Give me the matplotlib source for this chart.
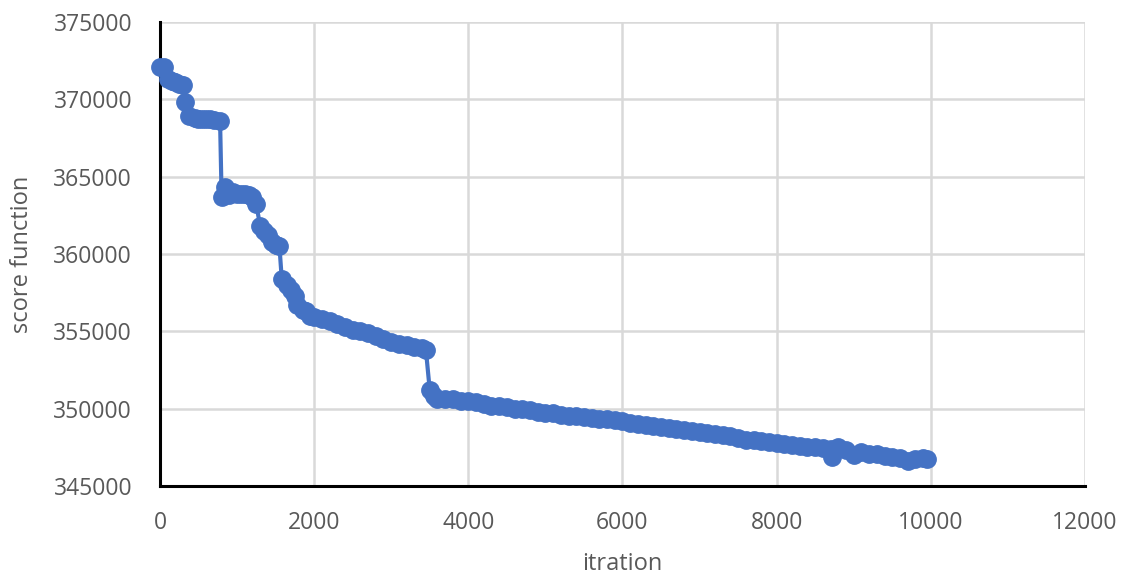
import matplotlib
matplotlib.use("Agg")
import matplotlib.pyplot as plt

# score function per iteration
iterations = [
    0, 50, 100, 150, 200, 250, 300, 330, 380, 450, 500, 550, 600, 650, 700, 780,
    800, 850, 900, 950, 1000, 1050, 1100, 1150, 1200, 1250, 1300, 1350, 1400, 1450, 1500, 1550,
    1580, 1650, 1700, 1750, 1780, 1850, 1900, 1950, 2000, 2100, 2200, 2300, 2400, 2500,
    2600, 2700, 2800, 2900, 3000, 3100, 3200, 3300, 3400, 3450,
    3500, 3550, 3600, 3700, 3800, 3900, 4000, 4100, 4200, 4300, 4400, 4500, 4600,
    4700, 4800, 4900, 5000, 5100, 5200, 5300, 5400, 5500, 5600, 5700, 5800, 5900, 6000,
    6100, 6200, 6300, 6400, 6500, 6600, 6700, 6800, 6900, 7000, 7100, 7200, 7300, 7400,
    7500, 7600, 7700, 7800, 7900, 8000, 8100, 8200, 8300, 8400, 8500, 8600, 8700, 8720,
    8800, 8900, 9000, 9100, 9200, 9300, 9400, 9500, 9600, 9700, 9800, 9900, 9950,
]
scores = [
    372100, 372100, 371300, 371200, 371100, 371000, 370900, 369800, 368900, 368800,
    368750, 368700, 368700, 368700, 368650, 368600,
    363700, 364300, 363800, 364000, 363900, 363900, 363900, 363800, 363700, 363200,
    361800, 361500, 361200, 360800, 360600, 360500,
    358400, 358000, 357700, 357300, 356700, 356400, 356300, 356000, 355900, 355800,
    355700, 355500, 355300, 355100,
    355000, 354900, 354700, 354500, 354300, 354200, 354100, 354000, 353900, 353800,
    351200, 350800, 350600, 350600, 350600, 350500, 350500, 350400, 350300, 350200,
    350200, 350100, 350000,
    349950, 349900, 349800, 349750, 349700, 349600, 349550, 349500, 349450, 349400,
    349350, 349300, 349250, 349200,
    349100, 349000, 348950, 348900, 348800, 348750, 348700, 348600, 348550, 348500,
    348400, 348350, 348300, 348250,
    348100, 348000, 347950, 347900, 347850, 347800, 347700, 347650, 347600, 347550,
    347500, 347450, 347400, 346900,
    347500, 347350, 347000, 347200, 347100, 347050, 346950, 346900, 346800, 346600,
    346750, 346800, 346750,
]

x_ticks = [0, 2000, 4000, 6000, 8000, 10000, 12000]
y_ticks = [345000, 350000, 355000, 360000, 365000, 370000, 375000]

plt.rcParams['font.family'] = ['Open Sans', 'DejaVu Sans']
text_color = '#595959'

fig = plt.figure(figsize=(11.24, 5.74), dpi=100)
ax = fig.add_axes([0.1423, 0.1533, 0.8230, 0.8084])

ax.plot(iterations, scores, color='#4472C4', linewidth=3,
        marker='o', markersize=12.5, zorder=3, clip_on=False)

ax.set_xlim(0, 12000)
ax.set_ylim(345000, 375000)
ax.set_xticks(x_ticks)
ax.set_yticks(y_ticks)
ax.set_xticklabels([str(v) for v in x_ticks])
ax.set_yticklabels([str(v) for v in y_ticks])

ax.grid(True, color='#D9D9D9', linewidth=1.8)
ax.set_axisbelow(True)
ax.tick_params(length=0, labelsize=16.5, colors=text_color)
ax.tick_params(axis='y', pad=20)
ax.tick_params(axis='x', pad=18)

for side in ('top', 'right'):
    ax.spines[side].set_visible(False)
for side in ('left', 'bottom'):
    ax.spines[side].set_color('black')
    ax.spines[side].set_linewidth(2.2)

ax.set_xlabel('itration', fontsize=17, color=text_color, labelpad=12)
ax.set_ylabel('score function', fontsize=17, color=text_color, labelpad=14)

fig.savefig('out.png', dpi=100, facecolor='white')
